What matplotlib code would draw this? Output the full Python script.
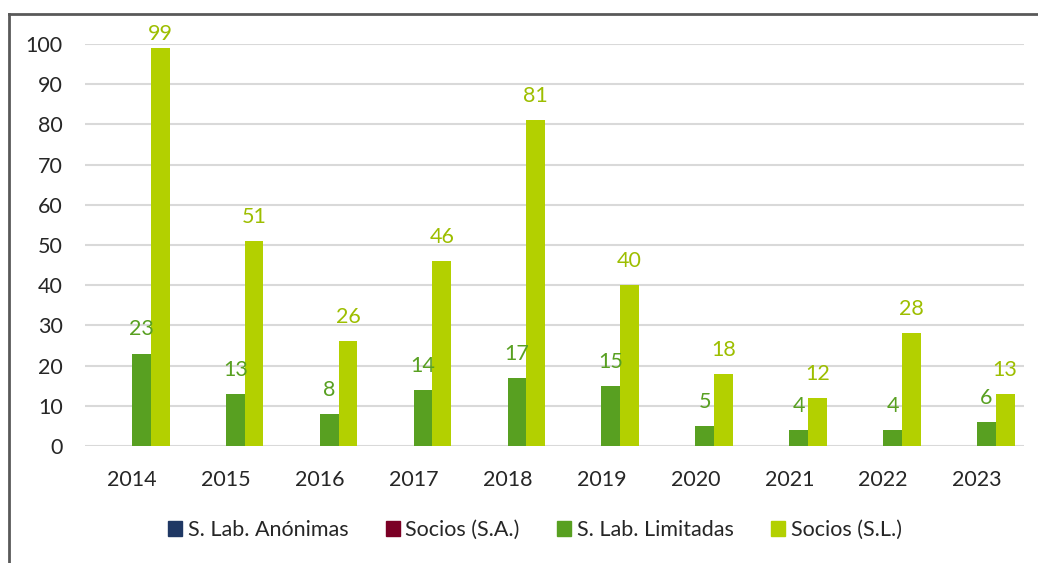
import matplotlib
matplotlib.use("Agg")
import matplotlib.pyplot as plt
import numpy as np
from matplotlib.lines import Line2D

years = ["2014", "2015", "2016", "2017", "2018", "2019", "2020", "2021", "2022", "2023"]
sl_anonimas = [0, 0, 0, 0, 0, 0, 0, 0, 0, 0]
socios_sa = [0, 0, 0, 0, 0, 0, 0, 0, 0, 0]
sl_limitadas = [23, 13, 8, 14, 17, 15, 5, 4, 4, 6]
socios_sl = [99, 51, 26, 46, 81, 40, 18, 12, 28, 13]
series_names = ["S. Lab. Anónimas", "Socios (S.A.)", "S. Lab. Limitadas", "Socios (S.L.)"]
colors = ["#1F3864", "#7B0025", "#58A021", "#B3D000"]
label_colors = [None, None, "#58A021", "#9DBE00"]

plt.rcParams['font.family'] = ['Lato', 'DejaVu Sans']
fs = 15.5

fig = plt.figure(figsize=(10.38, 5.63), dpi=100)
ax = fig.add_axes([85/1038, 1-446/563, (1024-85)/1038, (446-44)/563])

x = np.arange(len(years))
w = 0.2
offsets = [-0.3, -0.1, 0.1, 0.3]
all_series = [sl_anonimas, socios_sa, sl_limitadas, socios_sl]
for s, off, c, lc in zip(all_series, offsets, colors, label_colors):
    ax.bar(x + off, s, width=w, color=c, zorder=3)
    if lc is not None:
        for xi, v in zip(x, s):
            ypos = min(v + 3.5, 99.9)
            ax.text(xi + off, ypos, str(v), ha='center', va='bottom',
                    color=lc, fontsize=fs, zorder=4)

ax.set_xlim(-0.5, len(years) - 0.5)
ax.set_ylim(0, 100)
ax.set_yticks(range(0, 101, 10))
ax.set_xticks(x)
ax.set_xticklabels(years)
ax.tick_params(axis='both', length=0, labelsize=fs, colors='#262626')
ax.tick_params(axis='y', pad=16)
ax.tick_params(axis='x', pad=17)
ax.grid(axis='y', color='#D9D9D9', linewidth=1.5, zorder=0)
for sp in ax.spines.values():
    sp.set_visible(False)
ax.set_facecolor('none')

handles = [plt.Rectangle((0, 0), 1, 1, color=c) for c in colors]
leg = fig.legend(handles, series_names, loc='center', bbox_to_anchor=(535/1038, 1-530/563),
                 ncol=4, frameon=False, fontsize=fs, handlelength=0.65, handleheight=0.65,
                 handletextpad=0.25, columnspacing=1.75, labelcolor='#262626',
                 borderpad=0, borderaxespad=0)

# outer border
fig.add_artist(Line2D([9/1038, 9/1038], [0, 1-14/563], transform=fig.transFigure,
                      color='#595959', linewidth=2))
fig.add_artist(Line2D([9/1038, 1], [1-14/563, 1-14/563], transform=fig.transFigure,
                      color='#595959', linewidth=2))

fig.savefig("out.png", dpi=100)
